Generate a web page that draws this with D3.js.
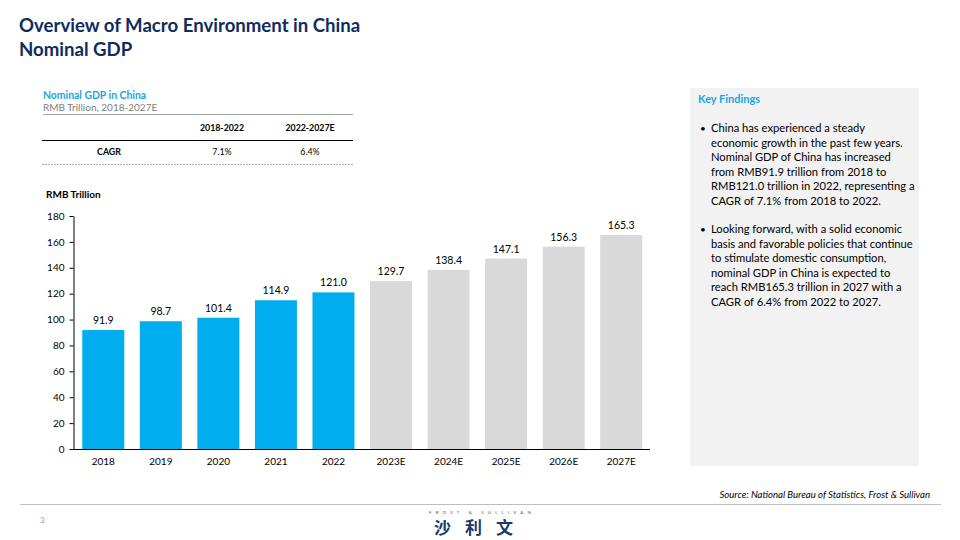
<!DOCTYPE html>
<html><head><meta charset="utf-8">
<script src="https://cdn.jsdelivr.net/npm/d3@7"></script>
<style>body{margin:0;background:#fff}svg{display:block;font-family:Lato,"Open Sans",sans-serif}</style>
</head><body><svg id="c" width="960" height="540"></svg>
<script>
const years = ["2018","2019","2020","2021","2022","2023E","2024E","2025E","2026E","2027E"];
const gdp = [91.9, 98.7, 101.4, 114.9, 121.0, 129.7, 138.4, 147.1, 156.3, 165.3];
const forecast = [false,false,false,false,false,true,true,true,true,true];
const yTicks = [0,20,40,60,80,100,120,140,160,180];
const cagrPeriods = ["2018-2022","2022-2027E"];
const cagrValues = ["7.1%","6.4%"];
const bullets = [
 ["China has experienced a steady","economic growth in the past few years.","Nominal GDP of China has increased","from RMB91.9 trillion from 2018 to","RMB121.0 trillion in 2022, representing a","CAGR of 7.1% from 2018 to 2022."],
 ["Looking forward, with a solid economic","basis and favorable policies that continue","to stimulate domestic consumption,","nominal GDP in China is expected to","reach RMB165.3 trillion in 2027 with a","CAGR of 6.4% from 2022 to 2027."]
];

const svg = d3.select("#c");
const navy = "#0e2c5e", blue = "#00adef", cyan = "#1ba6dd";

// Title
svg.append("text").attr("x",19).attr("y",32).attr("font-size",18.6).attr("font-weight",700).attr("fill",navy).text("Overview of Macro Environment in China");
svg.append("text").attr("x",19).attr("y",56).attr("font-size",18.6).attr("font-weight",700).attr("fill",navy).text("Nominal GDP");

// Subtitle & CAGR table
svg.append("text").attr("x",43).attr("y",99).attr("font-size",10.4).attr("font-weight",700).attr("fill",cyan).text("Nominal GDP in China");
svg.append("text").attr("x",43).attr("y",111).attr("font-size",10).attr("fill","#808080").text("RMB Trillion, 2018-2027E");
svg.append("line").attr("x1",43).attr("x2",353).attr("y1",114.5).attr("y2",114.5).attr("stroke","#a6a6a6").attr("stroke-width",1);
const colX = [222, 310];
cagrPeriods.forEach((p,i)=>{
  svg.append("text").attr("x",colX[i]).attr("y",131).attr("text-anchor","middle").attr("font-size",8.8).attr("font-weight",700).attr("fill","#000").text(p);
  svg.append("text").attr("x",colX[i]).attr("y",155).attr("text-anchor","middle").attr("font-size",8.8).attr("fill","#000").text(cagrValues[i]);
});
svg.append("line").attr("x1",42).attr("x2",353).attr("y1",140.5).attr("y2",140.5).attr("stroke","#000").attr("stroke-width",1.2);
svg.append("text").attr("x",109).attr("y",155).attr("text-anchor","middle").attr("font-size",8.8).attr("font-weight",700).attr("fill","#000").text("CAGR");
svg.append("line").attr("x1",42).attr("x2",353).attr("y1",164.5).attr("y2",164.5).attr("stroke","#999").attr("stroke-width",0.8).attr("stroke-dasharray","2,1");

// Chart
svg.append("text").attr("x",46).attr("y",198).attr("font-size",10).attr("font-weight",700).attr("fill","#000").text("RMB Trillion");
const x = d3.scaleBand().domain(years).range([74.5,650]).paddingInner(0.27).paddingOuter(0.135);
const y = d3.scaleLinear().domain([0,180]).range([449,216]);
const g = svg.append("g");
g.selectAll("rect.bar").data(gdp).join("rect").attr("class","bar")
  .attr("x",(d,i)=>x(years[i])).attr("width",x.bandwidth())
  .attr("y",d=>y(d)).attr("height",d=>y(0)-y(d))
  .attr("fill",(d,i)=>forecast[i]?"#d9d9d9":blue);
g.selectAll("text.val").data(gdp).join("text").attr("class","val")
  .attr("x",(d,i)=>x(years[i])+x.bandwidth()/2).attr("y",d=>y(d)-6)
  .attr("text-anchor","middle").attr("font-size",10.5).attr("fill","#000").text(d=>d.toFixed(1));
const ya = svg.append("g").attr("transform","translate(73.5,0)").call(d3.axisLeft(y).tickValues(yTicks).tickSize(4).tickSizeOuter(0));
ya.select(".domain").attr("stroke","#000");
ya.selectAll("line").attr("stroke","#000");
ya.selectAll("text").attr("font-size",10).attr("font-family","Lato").attr("fill","#000").attr("dx",-2);
const xa = svg.append("g").attr("transform","translate(0,449.5)").call(d3.axisBottom(x).tickSize(0).tickSizeOuter(0));
xa.select(".domain").attr("stroke","#000").attr("stroke-width",1.2).attr("d","M73,0H650");
xa.selectAll("text").attr("font-size",10).attr("font-family","Lato").attr("fill","#000").attr("dy","1.2em");

// Key findings panel
svg.append("rect").attr("x",690).attr("y",88).attr("width",229).attr("height",378).attr("fill","#f2f2f2");
svg.append("text").attr("x",698).attr("y",103).attr("font-size",11).attr("font-weight",700).attr("fill",cyan).text("Key Findings");
const startY = [132, 233];
bullets.forEach((lines,b)=>{
  svg.append("text").attr("x",700).attr("y",startY[b]).attr("font-size",10).attr("fill","#000").text("•");
  lines.forEach((l,i)=>{
    svg.append("text").attr("x",711).attr("y",startY[b]+i*14.5).attr("font-size",11.2).attr("fill","#000").text(l);
  });
});

// Footer
svg.append("text").attr("x",930).attr("y",498).attr("text-anchor","end").attr("font-size",9.6).attr("font-style","italic").attr("fill","#000").text("Source: National Bureau of Statistics, Frost & Sullivan");
svg.append("line").attr("x1",20).attr("x2",941).attr("y1",504.5).attr("y2",504.5).attr("stroke","#bfbfbf").attr("stroke-width",1);
svg.append("text").attr("x",40).attr("y",523).attr("font-size",8).attr("fill","#999").text("3");
svg.append("text").attr("x",429).attr("y",514).attr("font-size",4.5).attr("letter-spacing",4.1).attr("fill","#555").text("FROST & SULLIVAN");
svg.append("text").attr("x",434).attr("y",534).attr("font-size",17).attr("font-weight",700).attr("letter-spacing",14).attr("font-family","Noto Sans CJK SC").attr("fill","#1b3a6b").text("沙利文");
</script></body></html>
